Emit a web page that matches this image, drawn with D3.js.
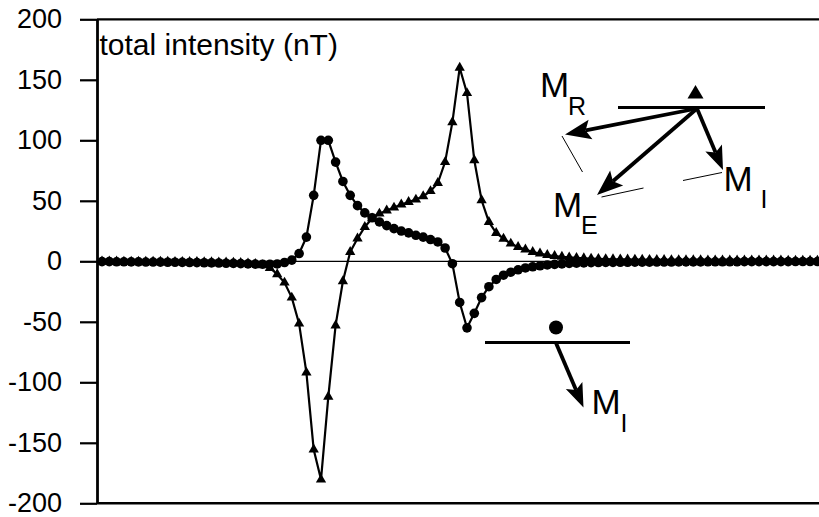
<!DOCTYPE html>
<html><head><meta charset="utf-8">
<script src="https://cdn.jsdelivr.net/npm/d3@7"></script>
<style>
html,body{margin:0;padding:0;background:#fff;}
svg{display:block;}
text{font-family:"Liberation Sans", Arial, Helvetica, sans-serif;fill:#000;}
</style></head><body>
<svg id="chart" width="819" height="517"></svg>
<script>
// ---------- data ----------
const categories = d3.range(0, 100); // sample positions along the profile (no x labels)

const circleSeries = [
  -0.3, -0.3, -0.4, -0.4, -0.5, -0.5, -0.6, -0.6, -0.7, -0.8,
  -0.8, -0.9, -1.0, -1.1, -1.2, -1.3, -1.4, -1.6, -1.7, -1.9,
  -2.1, -2.3, -2.4, -2.4, -2.2, -1.0, 1.0, 6.4, 20, 54.5,
  100, 100, 82, 66, 54.5, 46, 40, 36, 32.5, 29.5,
  27, 25, 23.5, 21.5, 20, 18, 16, 11, -2, -34,
  -55, -43, -30, -21, -15, -11.5, -9, -7, -5.5, -4.5,
  -3.7, -3.0, -2.5, -2.1, -1.8, -1.5, -1.3, -1.1, -1.0, -0.9,
  -0.9, -0.8, -0.8, -0.7, -0.7, -0.7, -0.6, -0.6, -0.6, -0.5,
  -0.5, -0.5, -0.5, -0.4, -0.4, -0.4, -0.4, -0.4, -0.3, -0.3,
  -0.3, -0.3, -0.3, -0.3, -0.3, -0.2, -0.2, -0.2, -0.2, -0.2
];

const triangleSeries = [
  -0.2, -0.2, -0.2, -0.3, -0.3, -0.3, -0.3, -0.4, -0.4, -0.4,
  -0.5, -0.5, -0.6, -0.6, -0.7, -0.8, -0.9, -1.0, -1.2, -1.4,
  -1.7, -2.2, -3.2, -5.5, -10.7, -17.6, -30, -51.5, -92, -155.6,
  -180.4, -112, -53, -16.5, 7.7, 18.8, 28.4, 35.5, 39.4, 42,
  44.4, 47, 49, 51, 53.7, 58, 64.7, 82, 115, 160,
  139, 83.5, 50.4, 32.5, 23.4, 18.7, 14.6, 11.8, 9.7, 7.7,
  6.4, 5.2, 4.4, 3.7, 3.2, 2.8, 2.5, 2.2, 2.0, 1.8,
  1.7, 1.6, 1.5, 1.4, 1.3, 1.2, 1.1, 1.1, 1.0, 1.0,
  0.9, 0.9, 0.9, 0.8, 0.8, 0.8, 0.7, 0.7, 0.7, 0.7,
  0.6, 0.6, 0.6, 0.6, 0.5, 0.5, 0.5, 0.5, 0.5, 0.5
];

const yTicks = [200, 150, 100, 50, 0, -50, -100, -150, -200];
const yTickLabels = ["200", "150", "100", "50", "0", "-50", "-100", "-150", "-200"];
const yTitle = "total intensity (nT)";
const vectorLabels = ["M", "R", "E", "I"];

// ---------- layout ----------
const W = 819, H = 517;
const plotLeft = 97, plotTop = 19.3, plotBottom = 503.3;
const firstPointX = 102, pointStep = 7.3;

const svg = d3.select("#chart");
svg.append("rect").attr("width", W).attr("height", H).attr("fill", "#fff");

const x = d3.scaleLinear()
  .domain([0, categories.length - 1])
  .range([firstPointX, firstPointX + pointStep * (categories.length - 1)]);
const y = d3.scaleLinear().domain([-200, 200]).range([plotBottom, plotTop]);

// frame lines (top & bottom of plot area)
svg.append("line").attr("x1", plotLeft).attr("x2", W + 5)
  .attr("y1", y(200)).attr("y2", y(200)).attr("stroke", "#000").attr("stroke-width", 2.3);
svg.append("line").attr("x1", plotLeft).attr("x2", W + 5)
  .attr("y1", y(-200)).attr("y2", y(-200)).attr("stroke", "#000").attr("stroke-width", 2.6);

// zero line
svg.append("line").attr("x1", plotLeft).attr("x2", W + 5)
  .attr("y1", y(0)).attr("y2", y(0)).attr("stroke", "#000").attr("stroke-width", 1.2);

// y axis
const yAxis = d3.axisLeft(y)
  .tickValues(yTicks)
  .tickFormat((d, i) => yTickLabels[i])
  .tickSize(17)
  .tickPadding(18)
  .tickSizeOuter(0);
const gy = svg.append("g").attr("transform", `translate(${plotLeft},0)`).call(yAxis);
gy.select(".domain").attr("stroke", "#000").attr("stroke-width", 2.8);
gy.selectAll(".tick line").attr("stroke", "#000").attr("stroke-width", 2.2);
gy.selectAll(".tick text")
  .attr("font-family", '"Liberation Sans", Arial, sans-serif')
  .attr("font-size", 27).attr("fill", "#000");

// title inside plot
svg.append("text").attr("x", 99.5).attr("y", 55)
  .attr("font-size", 30).text(yTitle);

// series
const line = d3.line().x((d, i) => x(categories[i])).y(d => y(d));

const gTri = svg.append("g");
gTri.append("path").datum(triangleSeries).attr("d", line)
  .attr("fill", "none").attr("stroke", "#000").attr("stroke-width", 2.2);
const triSym = d3.symbol(d3.symbolTriangle, 46);
gTri.selectAll("path.m").data(triangleSeries).join("path").attr("class", "m")
  .attr("d", triSym)
  .attr("transform", (d, i) => `translate(${x(categories[i])},${y(d)})`)
  .attr("fill", "#000");

const gCir = svg.append("g");
gCir.append("path").datum(circleSeries).attr("d", line)
  .attr("fill", "none").attr("stroke", "#000").attr("stroke-width", 2.2);
gCir.selectAll("circle").data(circleSeries).join("circle")
  .attr("cx", (d, i) => x(categories[i])).attr("cy", d => y(d))
  .attr("r", 4.8).attr("fill", "#000");

// ---------- annotation diagrams ----------
const ann = svg.append("g");
function arrow(x1, y1, x2, y2, L = 26, hw = 10) {
  const dx = x2 - x1, dy = y2 - y1, len = Math.hypot(dx, dy);
  const ux = dx / len, uy = dy / len, nx = -uy, ny = ux;
  const bx = x2 - ux * L, by = y2 - uy * L;
  const notchX = x2 - ux * (L - 5), notchY = y2 - uy * (L - 5);
  ann.append("line").attr("x1", x1).attr("y1", y1)
    .attr("x2", notchX).attr("y2", notchY)
    .attr("stroke", "#000").attr("stroke-width", 3.8);
  ann.append("path")
    .attr("d", `M${x2},${y2}L${bx + nx * hw},${by + ny * hw}L${notchX},${notchY}L${bx - nx * hw},${by - ny * hw}Z`)
    .attr("fill", "#000");
}
function thin(x1, y1, x2, y2) {
  ann.append("line").attr("x1", x1).attr("y1", y1).attr("x2", x2).attr("y2", y2)
    .attr("stroke", "#000").attr("stroke-width", 1);
}
function label(xm, ym, sub, xs, ys) {
  ann.append("text").attr("x", xm).attr("y", ym).attr("font-size", 35).text(vectorLabels[0]);
  ann.append("text").attr("x", xs).attr("y", ys).attr("font-size", 25).text(sub);
}

// upper diagram (triangle site)
ann.append("line").attr("x1", 618).attr("x2", 765).attr("y1", 107.5).attr("y2", 107.5)
  .attr("stroke", "#000").attr("stroke-width", 3.2);
ann.append("path").attr("d", "M687.5,98.5L703.5,98.5L695.5,85Z").attr("fill", "#000");
arrow(697, 108.5, 565, 134.5);
arrow(697, 108.5, 597, 195);
arrow(697, 108.5, 723, 170, 24, 9);
thin(562, 136, 582.5, 172);
thin(601.5, 197, 643.5, 188);
thin(683, 180.5, 722, 172.5);
label(540, 97, vectorLabels[1], 568, 115);
label(553, 216.5, vectorLabels[2], 581, 234);
label(723.5, 190.5, vectorLabels[3], 760.5, 208);

// lower diagram (circle site)
ann.append("circle").attr("cx", 556).attr("cy", 327.5).attr("r", 7).attr("fill", "#000");
ann.append("line").attr("x1", 485).attr("x2", 630).attr("y1", 342.5).attr("y2", 342.5)
  .attr("stroke", "#000").attr("stroke-width", 3.2);
arrow(556, 343, 583.5, 407.5, 24, 9);
label(591.5, 413.5, vectorLabels[3], 620.5, 432);
</script>
</body></html>
